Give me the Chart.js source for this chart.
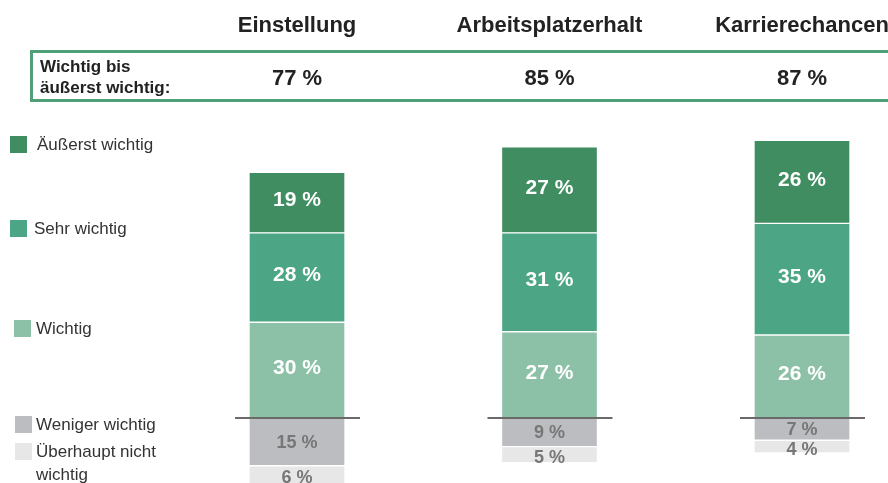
<!DOCTYPE html>
<html>
<head>
<meta charset="utf-8">
<script src="https://cdn.jsdelivr.net/npm/chart.js@4"></script>
<style>
  body { margin: 0; background: #fff; }
  #wrap { width: 888px; height: 483px; position: relative; }
</style>
</head>
<body>
<div id="wrap"><canvas id="likertChart"></canvas></div>
<script>
const categories = ['Einstellung', 'Arbeitsplatzerhalt', 'Karrierechancen'];
const aeusserstWichtig = [19, 27, 26];
const sehrWichtig = [28, 31, 35];
const wichtig = [30, 27, 26];
const wenigerWichtig = [15, 9, 7];
const ueberhauptNicht = [6, 5, 4];

const FONT = "'Liberation Sans', Arial, sans-serif";

// legend on the left: label lines, colour, y of first line
const legendItems = [
  { lines: ['Äußerst wichtig'], color: '#3f8d61', y: 144, x: 10, tx: 37 },
  { lines: ['Sehr wichtig'], color: '#4ca584', y: 228, x: 10, tx: 34 },
  { lines: ['Wichtig'], color: '#8cc1a8', y: 328, x: 14, tx: 36 },
  { lines: ['Weniger wichtig'], color: '#bcbdc1', y: 424, x: 15, tx: 36 },
  { lines: ['Überhaupt nicht', 'wichtig'], color: '#e7e7e7', y: 451, x: 15, tx: 36 }
];

const decorations = {
  id: 'decorations',
  beforeDatasetsDraw(chart) {
    const { ctx } = chart;
    const xs = chart.scales.x;
    // header box
    ctx.save();
    ctx.strokeStyle = '#4f9f78';
    ctx.lineWidth = 3;
    ctx.strokeRect(31.5, 51.5, 870, 49);
    ctx.fillStyle = '#222';
    ctx.font = 'bold 17px ' + FONT;
    ctx.textAlign = 'left';
    ctx.textBaseline = 'middle';
    ctx.fillText('Wichtig bis', 40, 67);
    ctx.fillText('äußerst wichtig:', 40, 88);
    categories.forEach((c, i) => {
      const x = xs.getPixelForValue(i);
      ctx.textAlign = 'center';
      ctx.font = 'bold 22px ' + FONT;
      ctx.fillText(c, x, 26);
      const total = wichtig[i] + sehrWichtig[i] + aeusserstWichtig[i];
      ctx.fillText(total + ' %', x, 79);
    });
    // legend
    legendItems.forEach(it => {
      ctx.fillStyle = it.color;
      ctx.fillRect(it.x, it.y - 8, 17, 17);
      ctx.fillStyle = '#333';
      ctx.font = '17px ' + FONT;
      ctx.textAlign = 'left';
      it.lines.forEach((l, k) => ctx.fillText(l, it.tx, it.y + 1 + k * 23));
    });
    ctx.restore();
  },
  afterDatasetsDraw(chart) {
    const { ctx } = chart;
    const xs = chart.scales.x;
    const y0 = chart.scales.y.getPixelForValue(0);
    ctx.save();
    // values inside the bars
    chart.data.datasets.forEach((ds, di) => {
      chart.getDatasetMeta(di).data.forEach((bar, i) => {
        const p = bar.getProps(['x', 'y', 'base'], true);
        const neg = ds.data[i] < 0;
        ctx.fillStyle = neg ? '#777' : '#fff';
        ctx.font = 'bold ' + (neg ? 18 : 21) + 'px ' + FONT;
        ctx.textAlign = 'center';
        ctx.textBaseline = 'middle';
        const yc = (p.y + p.base) / 2 + (di === 4 ? 3 : neg ? 1 : -2);
        ctx.fillText(Math.abs(ds.data[i]) + ' %', p.x, yc);
      });
    });
    // zero line under each bar
    ctx.strokeStyle = '#6a6a6a';
    ctx.lineWidth = 2;
    categories.forEach((c, i) => {
      const x = xs.getPixelForValue(i);
      ctx.beginPath();
      ctx.moveTo(x - 62, y0);
      ctx.lineTo(x + 63, y0);
      ctx.stroke();
    });
    ctx.restore();
  }
};

const barStyle = { barThickness: 96, borderColor: '#fff', borderWidth: 1, borderSkipped: false, clip: false };

new Chart(document.getElementById('likertChart'), {
  type: 'bar',
  data: {
    labels: categories,
    datasets: [
      { label: 'Wichtig', data: wichtig, backgroundColor: '#8cc1a8', ...barStyle },
      { label: 'Sehr wichtig', data: sehrWichtig, backgroundColor: '#4ca584', ...barStyle },
      { label: 'Äußerst wichtig', data: aeusserstWichtig, backgroundColor: '#3f8d61', ...barStyle },
      { label: 'Weniger wichtig', data: wenigerWichtig.map(v => -v), backgroundColor: '#bcbdc1', ...barStyle },
      { label: 'Überhaupt nicht wichtig', data: ueberhauptNicht.map(v => -v), backgroundColor: '#e7e7e7', ...barStyle }
    ]
  },
  options: {
    responsive: true,
    maintainAspectRatio: false,
    animation: false,
    layout: { padding: { left: 297, right: 86, top: 0, bottom: 0 } },
    plugins: { legend: { display: false }, tooltip: { enabled: false } },
    scales: {
      x: { stacked: true, display: false, offset: false },
      y: { stacked: true, display: false, min: -20.4, max: 131 }
    }
  },
  plugins: [decorations]
});
</script>
</body>
</html>
